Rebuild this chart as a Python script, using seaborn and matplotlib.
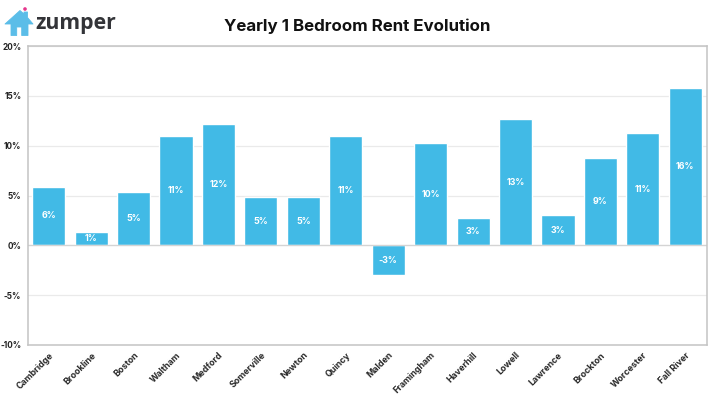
import matplotlib
matplotlib.use("Agg")
import matplotlib.pyplot as plt
from matplotlib.patches import Polygon, Circle
import pandas as pd
import seaborn as sns

cities = ["Cambridge", "Brookline", "Boston", "Waltham", "Medford", "Somerville",
          "Newton", "Quincy", "Malden", "Framingham", "Haverhill", "Lowell",
          "Lawrence", "Brockton", "Worcester", "Fall River"]
rent_change = [5.9, 1.3, 5.4, 11.0, 12.2, 4.8, 4.8, 11.0, -3.0, 10.3, 2.7, 12.7,
               3.0, 8.8, 11.3, 15.8]
y_ticks = [-10, -5, 0, 5, 10, 15, 20]

BLUE = "#41BAE6"
W, H = 720, 405

sns.set_theme(style="white")
plt.rcParams["font.family"] = ["Inter", "DejaVu Sans"]

fig = plt.figure(figsize=(W / 100, H / 100), dpi=100)
ax = fig.add_axes([27.5 / W, 1 - 345 / H, 679 / W, 299 / H])

df = pd.DataFrame({"city": cities, "change": rent_change})
sns.barplot(data=df, x="city", y="change", color=BLUE, saturation=1, width=0.78, ax=ax)

ax.set_xlim(-0.5, len(cities) - 0.5)
ax.set_ylim(-10, 20)
ax.set_xlabel("")
ax.set_ylabel("")
ax.set_yticks(y_ticks)
ax.set_yticklabels([f"{t}%" for t in y_ticks], fontsize=5.9, fontweight="bold", color="#222222")
ax.set_xticks(range(len(cities)))
ax.set_xticklabels(cities, rotation=45, ha="right", rotation_mode="anchor",
                   fontsize=6.4, fontweight="bold", color="#2a2a2a")
ax.tick_params(axis="y", length=0, pad=4.5)
ax.tick_params(axis="x", length=0, pad=4)

ax.set_axisbelow(True)
ax.grid(axis="y", color="#eaeaea", linewidth=0.9)
for spine in ax.spines.values():
    spine.set_color("#c4c4c4")
    spine.set_linewidth(1.1)
ax.axhline(0, color="#d4d4d4", linewidth=0.9, zorder=1)

# Value labels sit at the middle of each bar
for i, v in enumerate(rent_change):
    ax.text(i, v / 2, f"{v:.0f}%", ha="center", va="center", color="white",
            fontsize=6.4, fontweight="bold")

fig.text(357.5 / W, 1 - 26 / H, "Yearly 1 Bedroom Rent Evolution", ha="center", va="center",
         fontsize=12.2, fontweight="bold", color="#111111")

# Brand mark in the top left corner, laid out in pixel coordinates
logo = fig.add_axes([0, 0, 1, 1], facecolor="none")
logo.set_xlim(0, W)
logo.set_ylim(H, 0)
logo.axis("off")
logo.add_patch(Polygon([(5, 24), (20, 10.5), (24, 14), (24, 12), (27.5, 12), (27.5, 17.5),
                        (33, 24), (28, 24), (28, 35.5), (21.7, 35.5), (21.7, 27),
                        (16.7, 27), (16.7, 35.5), (11, 35.5), (11, 24)],
                       closed=True, facecolor="#5BBDE8", edgecolor="#5BBDE8",
                       linewidth=0.6, joinstyle="round"))
logo.add_patch(Circle((25, 9), 1.8, facecolor="#E5368C", edgecolor="none"))
logo.text(35.5, 23.5, "zumper", ha="left", va="center", fontsize=15.3, fontweight="bold",
          color="#333438", family=["Open Sans", "DejaVu Sans"])

fig.savefig("out.png", dpi=100, facecolor="white")
